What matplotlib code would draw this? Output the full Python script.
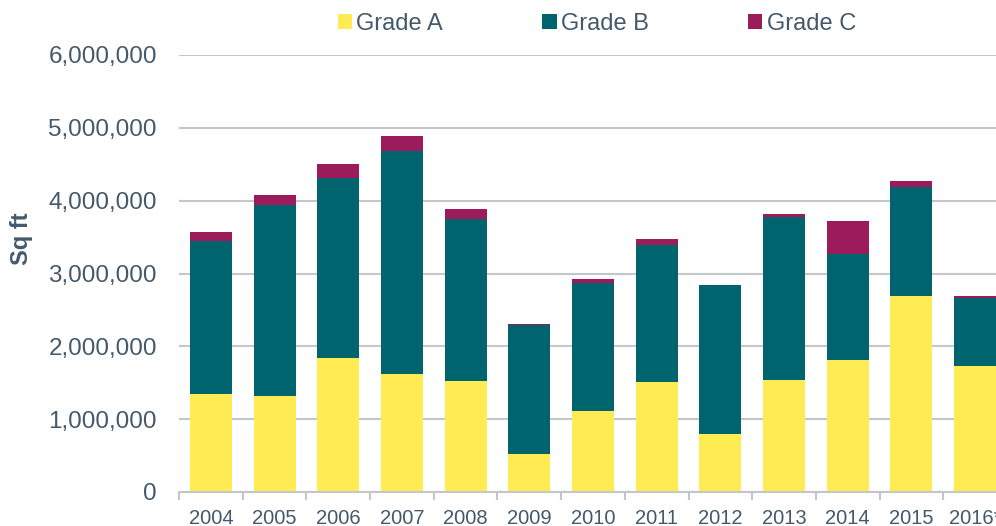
import matplotlib
matplotlib.use("Agg")
import matplotlib.pyplot as plt
from matplotlib.ticker import FuncFormatter, FixedLocator
import numpy as np

plt.rcParams['font.family'] = ['Liberation Sans', 'DejaVu Sans']

years = ["2004", "2005", "2006", "2007", "2008", "2009", "2010",
         "2011", "2012", "2013", "2014", "2015", "2016*"]
grade_a = [1346000, 1319000, 1840000, 1617000, 1529000, 518000, 1108000,
           1515000, 792000, 1543000, 1813000, 2685000, 1730000]
grade_b = [2101000, 2624000, 2470000, 3060000, 2226000, 1769000, 1757000,
           1875000, 2048000, 2237000, 1457000, 1505000, 940000]
grade_c = [129000, 132000, 190000, 208000, 133000, 13000, 65000,
           85000, 0, 35000, 447000, 76000, 25000]
series_names = ["Grade A", "Grade B", "Grade C"]

c_a = "#FFEC52"
c_b = "#00646E"
c_c = "#9C1C5B"
txt = "#44596B"
grid_c = "#C3C7CC"

fig = plt.figure(figsize=(9.96, 5.26), dpi=100)
ax = fig.add_axes([179/996, 1 - 492/526, (1007 - 179)/996, (492 - 55)/526])

x = np.arange(len(years))
w = 0.66
a = np.array(grade_a)
b = np.array(grade_b)
c = np.array(grade_c)
ax.bar(x, a, w, color=c_a, label=series_names[0], zorder=3)
ax.bar(x, b, w, bottom=a, color=c_b, label=series_names[1], zorder=3)
ax.bar(x, c, w, bottom=a + b, color=c_c, label=series_names[2], zorder=3)

ax.set_xlim(-0.5, len(years) - 0.5)
ax.set_ylim(0, 6000000)
ax.set_yticks(np.arange(0, 6000001, 1000000))
ax.yaxis.set_major_formatter(FuncFormatter(lambda v, p: f"{int(v):,}"))
ax.grid(axis='y', color=grid_c, linewidth=1.5, zorder=0)
ax.set_axisbelow(True)

for s in ['top', 'right', 'left']:
    ax.spines[s].set_visible(False)
ax.spines['bottom'].set_color(grid_c)
ax.spines['bottom'].set_linewidth(1.5)
ax.spines['bottom'].set_zorder(4)

ax.set_xticks(x)
ax.set_xticklabels(years)
ax.xaxis.set_minor_locator(FixedLocator(np.arange(-0.5, len(years), 1.0)))
ax.tick_params(axis='x', which='major', length=0, pad=12, labelsize=14.5, labelcolor=txt)
ax.tick_params(axis='x', which='minor', length=6, width=1.5, color=grid_c)
ax.tick_params(axis='y', length=0, pad=16, labelsize=17.5, labelcolor=txt)

ax.set_ylabel("Sq ft", fontsize=17, fontweight='bold', color=txt)
ax.yaxis.set_label_coords(-0.176, 0.579)

leg = ax.legend(loc='center', bbox_to_anchor=(597/996, 1 - 24/526),
                bbox_transform=fig.transFigure, ncol=3, frameon=False,
                fontsize=17, handlelength=0.6, handleheight=0.6,
                handletextpad=0.2, columnspacing=4.2, borderaxespad=0)
for t in leg.get_texts():
    t.set_color(txt)

fig.savefig("out.png", dpi=100)
